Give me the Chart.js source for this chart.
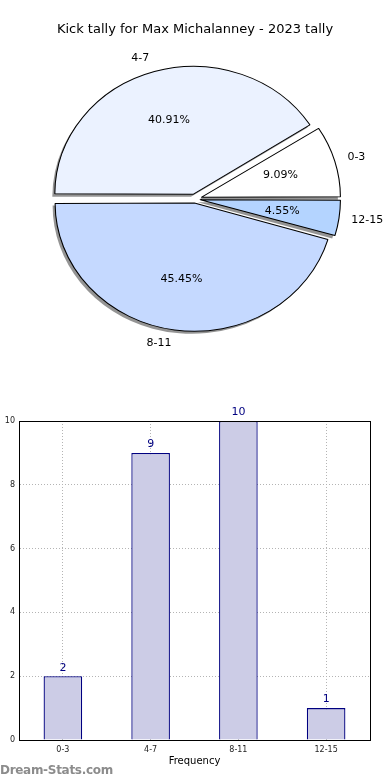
<!DOCTYPE html>
<html>
<head>
<meta charset="utf-8">
<script src="https://cdn.jsdelivr.net/npm/chart.js@4"></script>
<style>
body{margin:0;background:#fff;width:390px;height:780px;position:relative;overflow:hidden;font-family:"DejaVu Sans",sans-serif}
#pieChart{position:absolute;left:0;top:0}
#barChart{position:absolute;left:0;top:400px}
#mark{position:absolute;left:0;top:763px;font-size:12px;color:#8c8c8c;font-weight:bold;letter-spacing:-0.3px}
</style>
</head>
<body>
<canvas id="pieChart" width="390" height="370"></canvas>
<canvas id="barChart" width="390" height="380"></canvas>
<div id="mark">Dream-Stats.com</div>
<script>
const chartTitle = 'Kick tally for Max Michalanney - 2023 tally';
const categories = ['0-3', '4-7', '8-11', '12-15'];
const counts = [2, 9, 10, 1];
const pieColors = ['#FFFFFF', '#EBF2FF', '#C5D9FF', '#B4D4FF'];
const explode = [6, 5, 4, 5];
const yTitle = 'Number of Games';
const xTitle = 'Frequency';

const total = counts.reduce((a, b) => a + b, 0);
const font = '"DejaVu Sans", sans-serif';

// matplotlib goes counter-clockwise from 3 o'clock, chart.js clockwise -> reverse
const rev = a => a.slice().reverse();
const pieLabels = rev(categories);
const pieData = rev(counts);
const pieBg = rev(pieColors);
const pieOff = rev(explode).map(v => v * 4); // chart.js moves arcs by offset/4

const sx = 1.085; // matplotlib pie is a little wider than tall here

const pieLook = {
    id: 'pieLook',
    beforeDatasetsDraw(chart) {
        const ctx = chart.ctx;
        const arcs = chart.getDatasetMeta(0).data;
        const cx = arcs[0].x, cy = arcs[0].y;
        ctx.save();
        ctx.translate(cx, cy);
        ctx.scale(sx, 1);
        ctx.translate(-cx, -cy);
        // shadow under the slices
        ctx.fillStyle = 'rgba(0,0,0,0.42)';
        arcs.forEach(a => {
            const d = a.options.offset / 4;
            const circ = a.endAngle - a.startAngle;
            const fix = 1 - Math.sin(Math.min(Math.PI, circ));
            const mid = (a.startAngle + a.endAngle) / 2;
            const px = a.x + Math.cos(mid) * d - 2.5 / sx;
            const py = a.y + Math.sin(mid) * d + 2.5;
            ctx.beginPath();
            ctx.moveTo(px, py);
            ctx.arc(px, py, a.outerRadius + d * fix, a.startAngle, a.endAngle);
            ctx.closePath();
            ctx.fill();
        });
    },
    afterDatasetsDraw(chart) {
        const ctx = chart.ctx;
        ctx.restore();
        const arcs = chart.getDatasetMeta(0).data;
        ctx.save();
        ctx.fillStyle = '#000';
        ctx.font = '11px ' + font;
        ctx.textBaseline = 'middle';
        arcs.forEach((a, i) => {
            const d = a.options.offset / 4;
            const r = a.outerRadius + 3;
            const mid = (a.startAngle + a.endAngle) / 2;
            const c = Math.cos(mid), s = Math.sin(mid);
            // outer label
            ctx.textAlign = c > 0 ? 'left' : 'right';
            ctx.fillText(pieLabels[i], a.x + sx * c * (1.1 * r + d) - 1, a.y + s * (1.1 * r + d));
            // percentage
            ctx.textAlign = 'center';
            const pct = (pieData[i] / total * 100).toFixed(2) + '%';
            ctx.fillText(pct, a.x + sx * c * (0.6 * r + d) - 1, a.y + s * (0.6 * r + d));
        });
        ctx.font = '13px ' + font;
        ctx.textAlign = 'center';
        ctx.fillText(chartTitle, chart.width / 2, 30);
        ctx.restore();
    }
};

new Chart(document.getElementById('pieChart'), {
    type: 'pie',
    data: {
        labels: pieLabels,
        datasets: [{
            data: pieData,
            backgroundColor: pieBg,
            borderColor: '#000',
            borderWidth: 1,
            offset: pieOff,
            clip: false
        }]
    },
    options: {
        responsive: false,
        animation: false,
        rotation: 90,
        layout: {padding: {top: 61, bottom: 33, left: 0, right: 0}},
        plugins: {legend: {display: false}, tooltip: {enabled: false}}
    },
    plugins: [pieLook]
});

const barLook = {
    id: 'barLook',
    afterDraw(chart) {
        const ctx = chart.ctx;
        const a = chart.chartArea;
        ctx.save();
        ctx.strokeStyle = '#000';
        ctx.lineWidth = 1;
        ctx.strokeRect(Math.round(a.left) + 0.5, Math.round(a.top) + 0.5, Math.round(a.right - a.left), Math.round(a.bottom - a.top));
        // value labels
        ctx.fillStyle = '#000080';
        ctx.font = '11px ' + font;
        ctx.textAlign = 'center';
        ctx.textBaseline = 'bottom';
        chart.getDatasetMeta(0).data.forEach((b, i) => {
            ctx.fillText(String(counts[i]), b.x, b.y - 3);
        });
        // y title, mostly off the left edge like the original
        ctx.fillStyle = '#000';
        ctx.font = '10px ' + font;
        ctx.translate(-4, (a.top + a.bottom) / 2);
        ctx.rotate(-Math.PI / 2);
        ctx.textBaseline = 'middle';
        ctx.fillText(yTitle, 0, 0);
        ctx.restore();
    }
};

new Chart(document.getElementById('barChart'), {
    type: 'bar',
    data: {
        labels: categories,
        datasets: [{
            data: counts,
            backgroundColor: '#CCCCE6',
            borderColor: '#000080',
            borderWidth: 1.3,
            barPercentage: 0.44,
            categoryPercentage: 1
        }]
    },
    options: {
        responsive: false,
        animation: false,
        layout: {padding: {top: 21, right: 20, left: 0, bottom: 0}},
        plugins: {legend: {display: false}, tooltip: {enabled: false}},
        scales: {
            x: {
                grid: {offset: false, color: '#b4b4b4', drawTicks: false},
                border: {color: '#000', dash: [1, 2]},
                ticks: {font: {family: font, size: 8}, color: '#222', padding: 5},
                title: {display: true, text: xTitle, font: {family: font, size: 10}, color: '#000', padding: {top: 0, bottom: 13}},
                afterFit(s) { s.height = 40; }
            },
            y: {
                min: 0,
                max: 10,
                grid: {color: '#b4b4b4', drawTicks: false},
                border: {color: '#000', dash: [1, 2]},
                ticks: {stepSize: 2, font: {family: font, size: 8}, color: '#222', padding: 4},
                afterFit(s) { s.width = 19; }
            }
        }
    },
    plugins: [barLook]
});
</script>
</body>
</html>
